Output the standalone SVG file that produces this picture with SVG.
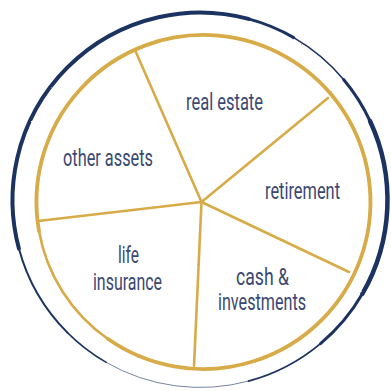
<svg xmlns="http://www.w3.org/2000/svg" width="391" height="391" viewBox="0 0 391 391">
  <style>
    .navy { fill: none; stroke: #1b3360; stroke-linecap: round; }
    .gold { fill: none; stroke: #d7ab46; stroke-linecap: round; }
    .spoke { stroke: #d7ab46; stroke-width: 2.6; stroke-linecap: round; fill: none; }
    .lbl { font-family: "Roboto", "Liberation Sans", sans-serif; font-weight: 400; font-size: 23px; fill: #3a4872; }
  </style>
  <defs>
    <filter id="rough" x="-5%" y="-5%" width="110%" height="110%">
      <feTurbulence type="fractalNoise" baseFrequency="0.7" numOctaves="1" seed="3" result="n"/>
      <feDisplacementMap in="SourceGraphic" in2="n" scale="1.6" xChannelSelector="R" yChannelSelector="G"/>
    </filter>
  </defs>
  <rect width="391" height="391" fill="#ffffff"/>
  <g id="outer-ring" filter="url(#rough)">
    <path class="navy" stroke-width="2" d="M67.4 332.6 A187.5 187.5 0 0 1 18.9 248.5"/>
    <path class="navy" stroke-width="4" d="M18.9 248.5 A187.5 187.5 0 0 1 248.5 18.9"/>
    <path class="navy" stroke-width="3" d="M248.5 18.9 A187.5 187.5 0 0 1 293.75 37.6"/>
    <path class="navy" stroke-width="1.6" d="M293.75 37.6 A187.5 187.5 0 0 1 343.6 79.5"/>
    <path class="navy" stroke-width="3" d="M343.6 79.5 A187.5 187.5 0 0 1 370 121"/>
    <path class="navy" stroke-width="4.5" d="M370 121 A187.5 187.5 0 0 1 362.4 293.75"/>
    <path class="navy" stroke-width="3" d="M362.4 293.75 A187.5 187.5 0 0 1 320.5 343.6"/>
    <path class="navy" stroke-width="1.8" d="M320.5 343.6 A187.5 187.5 0 0 1 248.5 381.1"/>
    <path class="navy" stroke-width="1" stroke-opacity="0.6" d="M248.5 381.1 A187.5 187.5 0 0 1 106.25 362.4"/>
    <path class="navy" stroke-width="1.5" d="M106.25 362.4 A187.5 187.5 0 0 1 67.4 332.6"/>
  </g>
  <g id="inner-ring" filter="url(#rough)">
    <path class="gold" stroke-width="2.6" d="M107.7 338.8 A167 167 0 0 1 39.0 231.0"/>
    <path class="gold" stroke-width="3.8" d="M39.0 231.0 A167 167 0 1 1 107.7 338.8"/>
  </g>
  <g id="connectors" filter="url(#rough)">
    <path class="spoke" d="M201.5 202 L135 50"/>
    <path class="spoke" d="M201.5 202 L328 98"/>
    <path class="spoke" d="M201.5 202 L349 272"/>
    <path class="spoke" d="M201.5 202 L194 366"/>
    <path class="spoke" stroke-width="3" d="M201.5 202 L38 221"/>
  </g>
  <g id="real-estate">
    <text class="lbl" x="186" y="110" textLength="77" lengthAdjust="spacingAndGlyphs">real estate</text>
  </g>
  <g id="other-assets">
    <text class="lbl" x="63" y="166" textLength="90" lengthAdjust="spacingAndGlyphs">other assets</text>
  </g>
  <g id="retirement">
    <text class="lbl" x="265" y="199" textLength="75" lengthAdjust="spacingAndGlyphs">retirement</text>
  </g>
  <g id="life-insurance">
    <text class="lbl" x="118" y="263" textLength="21" lengthAdjust="spacingAndGlyphs">life</text>
    <text class="lbl" x="93" y="289.5" textLength="69" lengthAdjust="spacingAndGlyphs">insurance</text>
  </g>
  <g id="cash-investments">
    <text class="lbl" x="236" y="285" textLength="53" lengthAdjust="spacingAndGlyphs">cash &amp;</text>
    <text class="lbl" x="218" y="310" textLength="88" lengthAdjust="spacingAndGlyphs">investments</text>
  </g>
</svg>
